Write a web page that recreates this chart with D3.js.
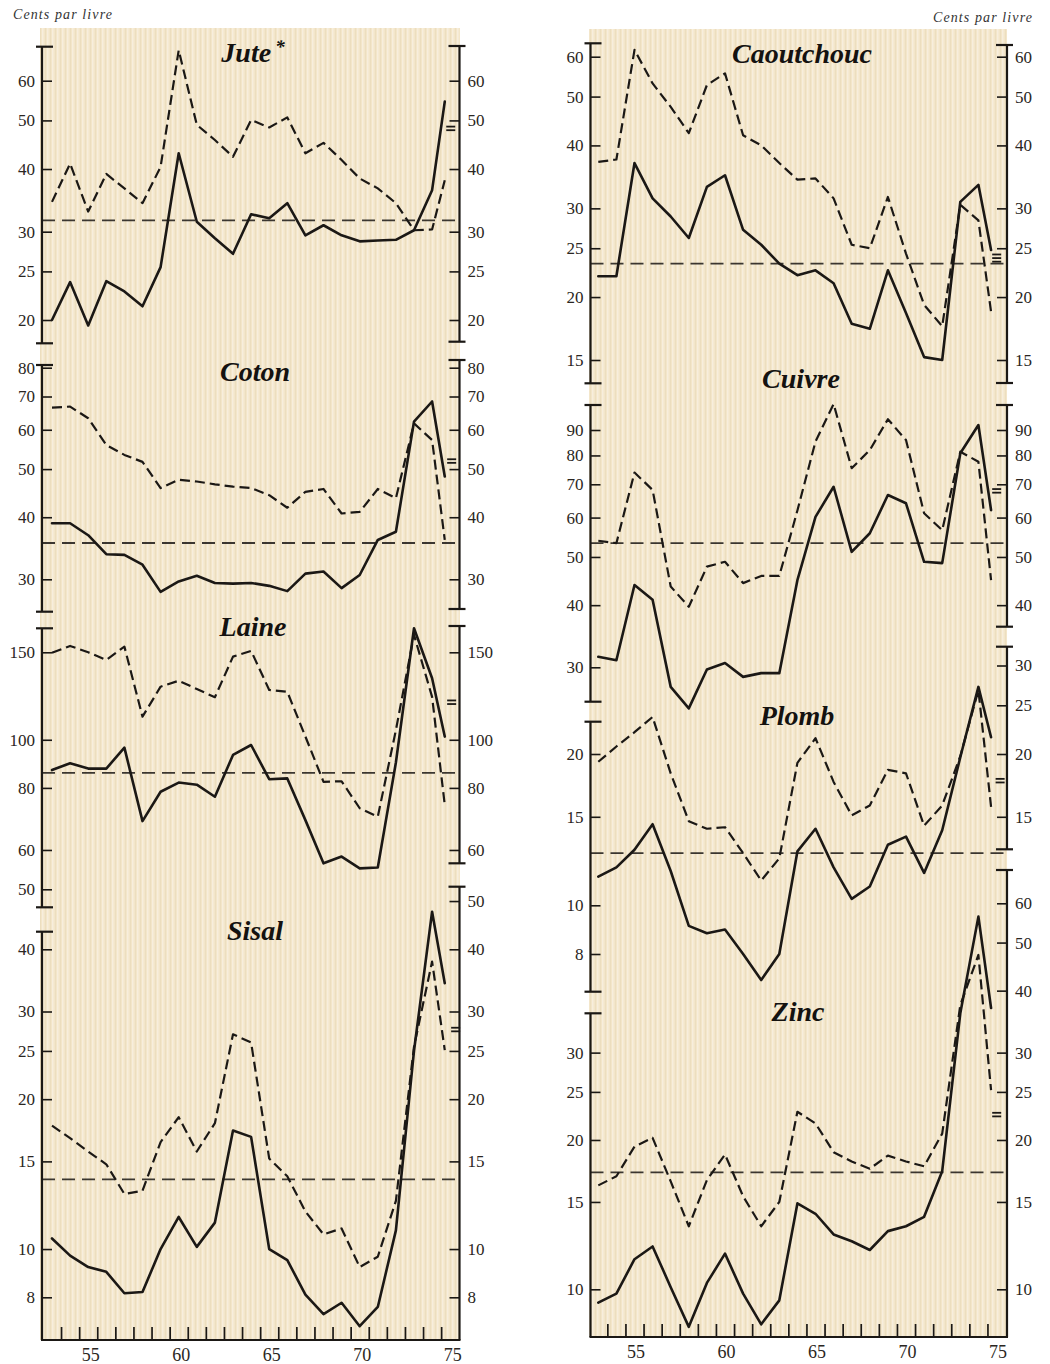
<!DOCTYPE html>
<html><head><meta charset="utf-8">
<script src="https://cdn.jsdelivr.net/npm/d3@7"></script>
<style>
body{margin:0;background:#fff}
svg{display:block}
</style>
</head><body>
<svg id="c" width="1050" height="1364"></svg>
<script>
// ---------- DATA ----------
const years = [1953,1954,1955,1956,1957,1958,1959,1960,1961,1962,1963,1964,1965,1966,1967,1968,1969,1970,1971,1972,1973,1974,1974.7];
const yearLabelValues = [1955,1960,1965,1970,1975];
const unitLabel = "Cents par livre";

const juteSolid  = [20,23.8,19.5,23.9,22.8,21.3,25.5,43,31.4,29.1,27.1,32.5,31.9,34.2,29.5,30.9,29.5,28.7,28.8,28.9,30.2,36.3,54.5];
const juteDashed = [34.4,41,32.9,39.1,36.6,34.2,40.4,69,49,45.7,42.3,50.1,48.4,50.7,43,45.1,41.7,38.3,36.6,34.2,30.2,30.3,38];
const juteAvg = 31.6;
const juteTicksLeft = [20,25,30,40,50,60];
const juteTicksRight = [20,25,30,40,50,60];

const cotonSolid  = [38.9,38.9,36.8,33.7,33.6,32.1,28.3,29.7,30.5,29.5,29.4,29.5,29.1,28.4,30.8,31.1,28.8,30.6,36,37.4,62.3,68.4,48.3];
const cotonDashed = [66.5,66.8,63.3,55.9,53.4,51.7,45.8,47.6,47.2,46.6,46.1,45.8,44.3,41.8,45,45.6,40.7,41,45.6,43.7,61.8,57.2,36];
const cotonAvg = 35.5;
const cotonTicksLeft = [30,40,50,60,70,80];
const cotonTicksRight = [30,40,50,60,70,80];

const laineSolid  = [86.9,89.7,87.5,87.5,96.4,68.6,78.6,82,81.2,76.8,93.2,97.6,83.3,83.6,68.9,56.4,58.2,55.1,55.3,90,167.7,133,101.5];
const laineDashed = [149.7,154.5,150,144.8,154,111.3,127.9,131.5,126.5,121.8,147,151,126,124.9,101.5,82.3,82.5,72.8,70,104.6,162.6,122,73.9];
const laineAvg = 85.8;
const laineTicksLeft = [50,60,80,100,150];
const laineTicksRight = [60,80,100,150];

const sisalSolid  = [10.5,9.7,9.2,9.0,8.15,8.2,10,11.6,10.1,11.3,17.3,16.8,10,9.5,8.1,7.4,7.8,7.0,7.65,10.9,25,47.6,34.2];
const sisalDashed = [17.7,16.7,15.7,14.8,12.9,13.1,16.4,18.4,15.7,17.9,27.0,26,15.2,14,11.9,10.7,11,9.2,9.65,12.5,25.5,37.8,25.1];
const sisalAvg = 13.8;
const sisalTicksLeft = [8,10,15,20,25,30,40];
const sisalTicksRight = [8,10,15,20,25,30,40,50];

const caoutchoucSolid  = [22.0,22.0,36.9,31.4,28.9,26.2,33.1,34.9,27.2,25.4,23.3,22.1,22.6,21.3,17.7,17.3,22.6,18.6,15.2,15.0,30.9,33.4,24.8];
const caoutchoucDashed = [37.1,37.5,61.9,53.1,47.7,42.3,52.7,55.6,41.9,40,36.9,34.2,34.4,31.4,25.4,25.0,31.6,24.4,19.3,17.5,30.5,28.4,18.7];
const caoutchoucAvg = 23.3;
const caoutchoucTicksLeft = [15,20,25,30,40,50,60];
const caoutchoucTicksRight = [15,20,25,30,40,50,60];

const cuivreSolid  = [31.5,31.0,43.9,41,27.4,24.8,29.7,30.6,28.7,29.2,29.2,44.9,60.2,69.2,51.2,55.8,66.6,64.1,48.9,48.6,80.8,92.1,62.1];
const cuivreDashed = [53.9,53.3,73.9,68.2,43.6,39.7,47.8,48.9,44.3,45.8,45.8,62,85.3,101.5,75.4,82,94.6,85.9,61.2,56.6,81.4,77.7,44.9];
const cuivreAvg = 53.3;
const cuivreTicksLeft = [30,40,50,60,70,80,90];
const cuivreTicksRight = [40,50,60,70,80,90];

const plombSolid  = [11.4,11.9,12.9,14.5,11.7,9.1,8.8,8.95,8.0,7.1,8.0,12.8,14.2,11.9,10.3,10.9,13.2,13.7,11.6,14.1,19.7,27.2,21.6];
const plombDashed = [19.3,20.7,22.1,23.7,18.3,14.7,14.2,14.3,12.7,11.2,12.4,19.2,21.5,17.6,15.1,15.8,18.6,18.3,14.4,15.8,19.8,26.8,15.7];
const plombAvg = 12.7;
const plombTicksLeft = [8,10,15,20];
const plombTicksRight = [15,20,25,30];

const zincSolid  = [9.4,9.8,11.5,12.2,10.1,8.4,10.3,11.8,9.8,8.5,9.5,14.9,14.2,12.9,12.5,12.0,13.1,13.4,14.0,17.3,36.0,56.4,36.9];
const zincDashed = [16.2,16.9,19.4,20.2,16.5,13.4,16.6,18.7,15.4,13.4,15.0,22.8,21.6,18.9,18.1,17.5,18.6,18.1,17.7,20.6,37.4,47.2,25.2];
const zincAvg = 17.2;
const zincTicksLeft = [10,15,20,25,30];
const zincTicksRight = [10,15,20,25,30,40,50,60];

// "=" marks near the right axis: [year, value]
const juteMark = [1975.03, 48.2];
const cotonMark = [1975.08, 51.9];
const laineMark = [1975.08, 119];
const sisalMark = [1975.3, 27.6];
const caoutchoucMark = [1975.01, 23.9];
const cuivreMark = [1975.01, 67.9];
const plombMark = [1975.2, 17.7];
const zincMark = [1975.01, 22.5];

// ---------- LAYOUT ----------
const layout = {
  left:  {range:[52,450.2],  axL:42,    axR:459.5, bg:[40,28,420,1312],  base:1340, labelDx:2},
  right: {range:[598.3,996.5], axL:590.5, axR:1007,  bg:[589,29,418,1308], base:1337, labelDx:1}
};
const ink = "#1b1815";
const serif = "'Liberation Serif','DejaVu Serif',serif";

const panels = [
  {title:"Jute", star:true, col:"left", solid:juteSolid, dashed:juteDashed, avg:juteAvg, mark:juteMark, marks:2,
   cal:[[60,80.7],[20,320]], tx:253, ty:62,
   axes:[{side:"L",y0:46.7,y1:343.3,ticks:juteTicksLeft},{side:"R",y0:46,y1:341.7,ticks:juteTicksRight}]},
  {title:"Coton", col:"left", solid:cotonSolid, dashed:cotonDashed, avg:cotonAvg, mark:cotonMark, marks:2,
   cal:[[80,367.7],[30,579.3]], tx:255, ty:381,
   axes:[{side:"L",y0:365,y1:611.7,ticks:cotonTicksLeft},{side:"R",y0:360,y1:609,ticks:cotonTicksRight}]},
  {title:"Laine", col:"left", solid:laineSolid, dashed:laineDashed, avg:laineAvg, mark:laineMark, marks:2,
   cal:[[150,652.3],[50,889.3]], tx:253, ty:636,
   axes:[{side:"L",y0:628.3,y1:907.3,ticks:laineTicksLeft},{side:"R",y0:626,y1:863.3,ticks:laineTicksRight}]},
  {title:"Sisal", col:"left", solid:sisalSolid, dashed:sisalDashed, avg:sisalAvg, mark:sisalMark, marks:2,
   cal:[[40,949.3],[8,1297.3]], tx:255, ty:940,
   axes:[{side:"L",y0:931.7,y1:1340,ticks:sisalTicksLeft,noBottomCap:true},{side:"R",y0:886.7,y1:1340,ticks:sisalTicksRight,noBottomCap:true}]},
  {title:"Caoutchouc", col:"right", solid:caoutchoucSolid, dashed:caoutchoucDashed, avg:caoutchoucAvg, mark:caoutchoucMark, marks:3,
   cal:[[60,56.7],[15,360]], tx:802, ty:63,
   axes:[{side:"L",y0:43.3,y1:383.3,ticks:caoutchoucTicksLeft},{side:"R",y0:45,y1:383,ticks:caoutchoucTicksRight}]},
  {title:"Cuivre", col:"right", solid:cuivreSolid, dashed:cuivreDashed, avg:cuivreAvg, mark:cuivreMark, marks:2,
   cal:[[90,430],[30,667.3]], tx:801, ty:388,
   axes:[{side:"L",y0:405,y1:701.7,ticks:cuivreTicksLeft},{side:"R",y0:405,y1:626.7,ticks:cuivreTicksRight}]},
  {title:"Plomb", col:"right", solid:plombSolid, dashed:plombDashed, avg:plombAvg, mark:plombMark, marks:2,
   cal:[[20,754],[8,954]], tx:797, ty:725,
   axes:[{side:"L",y0:721.7,y1:991.7,ticks:plombTicksLeft},{side:"R",y0:646.7,y1:849.3,ticks:plombTicksRight}]},
  {title:"Zinc", col:"right", solid:zincSolid, dashed:zincDashed, avg:zincAvg, mark:zincMark, marks:2,
   cal:[[60,903.3],[10,1289.3]], tx:798, ty:1021,
   axes:[{side:"L",y0:1013.3,y1:1337,ticks:zincTicksLeft,noBottomCap:true},{side:"R",y0:870,y1:1337,ticks:zincTicksRight,noBottomCap:true}]}
];

// ---------- DRAW ----------
const svg = d3.select("#c");
const defs = svg.append("defs");
const pat = defs.append("pattern").attr("id","paper").attr("width",5).attr("height",10).attr("patternUnits","userSpaceOnUse");
pat.append("rect").attr("width",5).attr("height",10).attr("fill","#f3e6ca");
pat.append("rect").attr("x",0).attr("width",1).attr("height",10).attr("fill","#ecdebf");
pat.append("rect").attr("x",2).attr("width",1.5).attr("height",10).attr("fill","#f7eedd");

Object.values(layout).forEach(L=>{
  svg.append("rect").attr("x",L.bg[0]).attr("y",L.bg[1]).attr("width",L.bg[2]).attr("height",L.bg[3]).attr("fill","url(#paper)");
});

svg.append("text").attr("x",13).attr("y",19).attr("font-family",serif).attr("font-style","italic")
  .attr("font-size",14).attr("letter-spacing",1.1).attr("fill","#333").text(unitLabel);
svg.append("text").attr("x",1033).attr("y",22).attr("text-anchor","end").attr("font-family",serif).attr("font-style","italic")
  .attr("font-size",14).attr("letter-spacing",1.1).attr("fill","#333").text(unitLabel);

const xScales = {};
Object.entries(layout).forEach(([k,L])=>{
  xScales[k] = d3.scaleLinear().domain([1953,1975]).range(L.range);
});

panels.forEach(p=>{
  const L = layout[p.col];
  const x = xScales[p.col];
  const y = d3.scaleLog().domain([p.cal[0][0],p.cal[1][0]]).range([p.cal[0][1],p.cal[1][1]]);
  const g = svg.append("g");

  // average line
  g.append("line").attr("x1",L.axL).attr("x2",L.axR).attr("y1",y(p.avg)).attr("y2",y(p.avg))
    .attr("stroke",ink).attr("stroke-width",1.8).attr("stroke-dasharray","13,7").attr("opacity",0.85);

  const line = d3.line().x((d,i)=>x(years[i])).y(d=>y(d));
  g.append("path").datum(p.dashed).attr("d",line).attr("fill","none").attr("stroke",ink)
    .attr("stroke-width",2.2).attr("stroke-dasharray","10,5").attr("stroke-linejoin","round");
  g.append("path").datum(p.solid).attr("d",line).attr("fill","none").attr("stroke",ink)
    .attr("stroke-width",2.6).attr("stroke-linejoin","round").attr("stroke-linecap","round");

  // axes
  p.axes.forEach(a=>{
    const ax = a.side==="L" ? L.axL : L.axR;
    const axis = (a.side==="L" ? d3.axisLeft(y) : d3.axisRight(y))
      .tickValues(a.ticks).tickFormat(d=>String(d)).tickSize(-10).tickPadding(a.side==="L"?7:8).tickSizeOuter(0);
    const ag = g.append("g").attr("transform",`translate(${ax},0)`).call(axis);
    ag.select(".domain").remove();
    ag.selectAll(".tick line").attr("stroke",ink).attr("stroke-width",1.6);
    ag.selectAll(".tick text").attr("font-family",serif).attr("font-size",17).attr("fill","#2a2622");
    ag.append("line").attr("x1",0).attr("x2",0).attr("y1",a.y0).attr("y2",a.y1).attr("stroke",ink).attr("stroke-width",2.2);
    const dir = a.side==="L" ? 1 : -1;
    const caps = a.noBottomCap ? [a.y0] : [a.y0,a.y1];
    caps.forEach(cy=>{
      ag.append("line").attr("x1",-6*dir).attr("x2",11*dir).attr("y1",cy).attr("y2",cy)
        .attr("stroke",ink).attr("stroke-width",2.2);
    });
  });

  // "=" mark
  const mx = x(p.mark[0]), my = y(p.mark[1]);
  for(let i=0;i<p.marks;i++){
    const off = (i-(p.marks-1)/2)*3.6;
    g.append("line").attr("x1",mx-4.5).attr("x2",mx+4.5).attr("y1",my+off).attr("y2",my+off)
      .attr("stroke",ink).attr("stroke-width",1.8);
  }

  // title
  const t = g.append("text").attr("x",p.tx).attr("y",p.ty).attr("text-anchor","middle")
    .attr("font-family",serif).attr("font-weight","bold").attr("font-style","italic")
    .attr("font-size",28).attr("fill","#141210").text(p.title);
  if(p.star) t.append("tspan").attr("font-size",19).attr("dx",4).attr("dy",-9).text("*");
});

// bottom axes
Object.entries(layout).forEach(([k,L])=>{
  const x = xScales[k];
  const g = svg.append("g").attr("transform",`translate(0,${L.base})`);
  const tickAxis = d3.axisBottom(x).tickValues(d3.range(1953.5,1975,1)).tickSize(-13).tickFormat("").tickSizeOuter(0);
  const tg = g.append("g").call(tickAxis);
  tg.select(".domain").remove();
  tg.selectAll(".tick line").attr("stroke",ink).attr("stroke-width",1.7);
  g.append("line").attr("x1",L.axL-1).attr("x2",L.axR+1).attr("y1",0).attr("y2",0).attr("stroke",ink).attr("stroke-width",2.2);
  const labAxis = d3.axisBottom(x).tickValues(yearLabelValues).tickSize(0).tickPadding(8)
    .tickFormat(d=>String(d%100)).tickSizeOuter(0);
  const lg = g.append("g").attr("transform",`translate(${L.labelDx},0)`).call(labAxis);
  lg.select(".domain").remove();
  lg.selectAll(".tick text").attr("font-family",serif).attr("font-size",18).attr("fill","#2a2622");
});
</script>
</body></html>
